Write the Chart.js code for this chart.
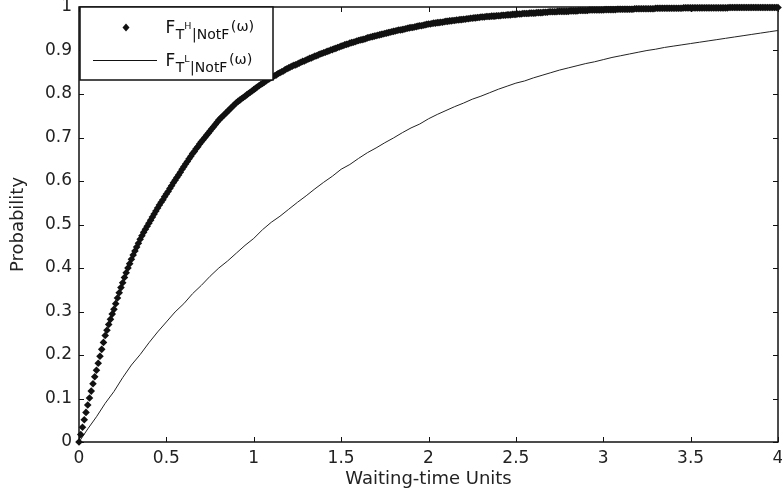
<!DOCTYPE html>
<html>
<head>
<meta charset="utf-8">
<script src="https://cdn.jsdelivr.net/npm/chart.js@4.4.1/dist/chart.umd.min.js"></script>
<style>
  html, body { margin: 0; padding: 0; background: #fff; }
  #wrap { width: 782px; height: 495px; }
</style>
</head>
<body>
<div id="wrap"><canvas id="c" width="782" height="495"></canvas></div>
<script>
// ── Ticks ───────────────────────────────────────────────────────
const X_TICKS = [0, 0.5, 1, 1.5, 2, 2.5, 3, 3.5, 4];
const Y_TICKS = [0, 0.1, 0.2, 0.3, 0.4, 0.5, 0.6, 0.7, 0.8, 0.9, 1];

// ── F_T^H|NotF : markers, one every 0.01 time unit ──────────────
const H_STEP = 0.01;
const H_VALUES = [
  0, 0.017, 0.034, 0.051, 0.068, 0.085, 0.101, 0.117, 0.134, 0.150,
  0.165, 0.181, 0.197, 0.213, 0.229, 0.245, 0.257, 0.270, 0.282, 0.294,
  0.305, 0.318, 0.331, 0.343, 0.355, 0.366, 0.378, 0.389, 0.400, 0.410,
  0.420, 0.430, 0.439, 0.448, 0.457, 0.466, 0.474, 0.482, 0.489, 0.496,
  0.503, 0.510, 0.517, 0.524, 0.531, 0.538, 0.545, 0.551, 0.557, 0.564,
  0.570, 0.576, 0.583, 0.589, 0.596, 0.602, 0.608, 0.614, 0.620, 0.627,
  0.633, 0.639, 0.645, 0.651, 0.657, 0.663, 0.668, 0.674, 0.679, 0.685,
  0.690, 0.695, 0.700, 0.705, 0.710, 0.715, 0.720, 0.725, 0.730, 0.735,
  0.740, 0.744, 0.748, 0.752, 0.756, 0.760, 0.764, 0.768, 0.772, 0.776,
  0.780, 0.783, 0.786, 0.789, 0.792, 0.795, 0.798, 0.801, 0.804, 0.807,
  0.810, 0.813, 0.816, 0.819, 0.822, 0.824, 0.827, 0.830, 0.833, 0.835,
  0.838, 0.840, 0.842, 0.844, 0.847, 0.849, 0.851, 0.853, 0.856, 0.858,
  0.860, 0.862, 0.864, 0.866, 0.867, 0.869, 0.871, 0.873, 0.875, 0.876,
  0.878, 0.880, 0.882, 0.883, 0.885, 0.887, 0.888, 0.890, 0.892, 0.893,
  0.895, 0.896, 0.898, 0.899, 0.901, 0.902, 0.904, 0.905, 0.907, 0.908,
  0.910, 0.911, 0.913, 0.914, 0.915, 0.917, 0.918, 0.919, 0.920, 0.922,
  0.923, 0.924, 0.925, 0.926, 0.927, 0.929, 0.930, 0.931, 0.932, 0.933,
  0.934, 0.935, 0.936, 0.937, 0.938, 0.939, 0.940, 0.941, 0.942, 0.943,
  0.944, 0.945, 0.946, 0.947, 0.947, 0.948, 0.949, 0.950, 0.951, 0.952,
  0.953, 0.953, 0.954, 0.955, 0.956, 0.957, 0.957, 0.958, 0.959, 0.960,
  0.961, 0.961, 0.962, 0.963, 0.963, 0.964, 0.964, 0.965, 0.965, 0.966,
  0.967, 0.967, 0.968, 0.968, 0.969, 0.969, 0.970, 0.970, 0.971, 0.971,
  0.972, 0.972, 0.973, 0.973, 0.974, 0.974, 0.975, 0.975, 0.976, 0.976,
  0.977, 0.977, 0.977, 0.978, 0.978, 0.978, 0.979, 0.979, 0.979, 0.980,
  0.980, 0.980, 0.981, 0.981, 0.981, 0.982, 0.982, 0.982, 0.983, 0.983,
  0.983, 0.984, 0.984, 0.984, 0.985, 0.985, 0.985, 0.985, 0.986, 0.986,
  0.986, 0.986, 0.987, 0.987, 0.987, 0.987, 0.988, 0.988, 0.988, 0.989,
  0.989, 0.989, 0.989, 0.989, 0.990, 0.990, 0.990, 0.990, 0.990, 0.990,
  0.990, 0.991, 0.991, 0.991, 0.991, 0.991, 0.992, 0.992, 0.992, 0.992,
  0.992, 0.992, 0.993, 0.993, 0.993, 0.993, 0.993, 0.993, 0.993, 0.993,
  0.993, 0.994, 0.994, 0.994, 0.994, 0.994, 0.994, 0.994, 0.995, 0.995,
  0.995, 0.995, 0.995, 0.995, 0.995, 0.995, 0.995, 0.995, 0.996, 0.996,
  0.996, 0.996, 0.996, 0.996, 0.996, 0.996, 0.996, 0.996, 0.996, 0.996,
  0.997, 0.997, 0.997, 0.997, 0.997, 0.997, 0.997, 0.997, 0.997, 0.997,
  0.997, 0.997, 0.997, 0.997, 0.997, 0.997, 0.998, 0.998, 0.998, 0.998,
  0.998, 0.998, 0.998, 0.998, 0.998, 0.998, 0.998, 0.998, 0.998, 0.998,
  0.998, 0.998, 0.998, 0.998, 0.998, 0.998, 0.998, 0.998, 0.998, 0.998,
  0.998, 0.998, 0.999, 0.999, 0.999, 0.999, 0.999, 0.999, 0.999, 0.999,
  0.999, 0.999, 0.999, 0.999, 0.999, 0.999, 0.999, 0.999, 0.999, 0.999,
  0.999, 0.999, 0.999, 0.999, 0.999, 0.999, 0.999, 0.999, 0.999, 0.999,
  0.999
];

// ── F_T^L|NotF : solid line, one value every 0.05 time unit ─────
const L_STEP = 0.05;
const L_VALUES = [
  0.000, 0.030, 0.058, 0.089, 0.116, 0.148, 0.177, 0.201, 0.228, 0.253,
  0.276, 0.299, 0.318, 0.341, 0.360, 0.381, 0.400, 0.416, 0.434, 0.452,
  0.468, 0.488, 0.505, 0.519, 0.535, 0.551, 0.566, 0.582, 0.597, 0.611,
  0.627, 0.638, 0.652, 0.665, 0.676, 0.688, 0.699, 0.711, 0.722, 0.731,
  0.743, 0.753, 0.762, 0.771, 0.779, 0.788, 0.795, 0.803, 0.811, 0.818,
  0.825, 0.830, 0.837, 0.843, 0.849, 0.855, 0.860, 0.865, 0.870, 0.874,
  0.879, 0.884, 0.888, 0.892, 0.896, 0.900, 0.903, 0.907, 0.910, 0.913,
  0.916, 0.919, 0.922, 0.925, 0.928, 0.931, 0.934, 0.937, 0.940, 0.943,
  0.946
];

const FONT = "'DejaVu Sans', sans-serif";
const INK = "#111";

const toPoints = (vals, step) => vals.map((y, i) => ({ x: +(i * step).toFixed(4), y }));

// ── Cadre MATLAB : boîte + graduations vers l'intérieur ─────────
const matlabBox = {
  id: "matlabBox",
  beforeDatasetsDraw(chart) {
    const { ctx, chartArea: a, scales } = chart;
    const len = 5;
    ctx.save();
    ctx.strokeStyle = INK;
    ctx.lineWidth = 1.5;
    ctx.strokeRect(a.left, a.top, a.right - a.left, a.bottom - a.top);
    ctx.lineWidth = 1;
    ctx.beginPath();
    scales.x.ticks.forEach(t => {
      const px = Math.round(scales.x.getPixelForValue(t.value)) + 0.5;
      ctx.moveTo(px, a.bottom); ctx.lineTo(px, a.bottom - len);
      ctx.moveTo(px, a.top);    ctx.lineTo(px, a.top + len);
    });
    scales.y.ticks.forEach(t => {
      const py = Math.round(scales.y.getPixelForValue(t.value)) + 0.5;
      ctx.moveTo(a.left, py);  ctx.lineTo(a.left + len, py);
      ctx.moveTo(a.right, py); ctx.lineTo(a.right - len, py);
    });
    ctx.stroke();
    ctx.restore();
  },
};

// ── Légende avec indices / exposants ────────────────────────────
function legendLabel(ctx, x, y, sup) {
  ctx.textBaseline = "alphabetic";
  ctx.textAlign = "left";
  ctx.font = "17px " + FONT;
  ctx.fillText("F", x, y);
  x += ctx.measureText("F").width + 0.5;
  ctx.font = "14px " + FONT;
  ctx.fillText("T", x, y + 5.5);
  x += ctx.measureText("T").width;
  ctx.font = "9.5px " + FONT;
  ctx.fillText(sup, x, y - 4.5);
  x += ctx.measureText(sup).width + 0.5;
  ctx.font = "14px " + FONT;
  ctx.fillText("|NotF", x, y + 5.5);
  x += ctx.measureText("|NotF").width + 1.5;
  ctx.font = "14.5px " + FONT;
  ctx.fillText("(ω)", x, y - 2.5);
}

const matlabLegend = {
  id: "matlabLegend",
  afterDraw(chart) {
    const { ctx } = chart;
    ctx.save();
    ctx.fillStyle = "#fff";
    ctx.fillRect(80, 7, 193, 73);
    ctx.strokeStyle = INK;
    ctx.lineWidth = 1.5;
    ctx.strokeRect(80, 7, 193, 73);
    // marqueur
    ctx.fillStyle = INK;
    ctx.beginPath();
    ctx.moveTo(126, 23.5); ctx.lineTo(129.5, 27.5); ctx.lineTo(126, 31.5); ctx.lineTo(122.5, 27.5);
    ctx.closePath();
    ctx.fill();
    // trait
    ctx.lineWidth = 1;
    ctx.beginPath();
    ctx.moveTo(93, 60.5); ctx.lineTo(157, 60.5);
    ctx.stroke();
    legendLabel(ctx, 165.5, 33, "H");
    legendLabel(ctx, 165.5, 66, "L");
    ctx.restore();
  },
};

const tickFont = { family: FONT, size: 17 };
const titleFont = { family: FONT, size: 18 };

new Chart(document.getElementById("c"), {
  type: "scatter",
  data: {
    datasets: [
      {
        label: "F_T^H|NotF(ω)",
        data: toPoints(H_VALUES, H_STEP),
        showLine: false,
        pointStyle: "rectRot",
        pointRadius: 3.8,
        backgroundColor: INK,
        borderWidth: 0,
        clip: false,
      },
      {
        label: "F_T^L|NotF(ω)",
        data: toPoints(L_VALUES, L_STEP),
        showLine: true,
        borderColor: "#222",
        borderWidth: 1,
        pointRadius: 0,
        tension: 0,
      },
    ],
  },
  options: {
    responsive: false,
    animation: false,
    devicePixelRatio: 1,
    events: [],
    layout: { padding: { top: 7, right: 2, left: 0, bottom: 0 } },
    plugins: { legend: { display: false }, tooltip: { enabled: false } },
    scales: {
      x: {
        type: "linear",
        min: 0,
        max: 4,
        afterBuildTicks: s => { s.ticks = X_TICKS.map(v => ({ value: v })); },
        afterFit: s => { s.height = 53; s.paddingLeft = 0; s.paddingRight = 0; },
        grid: { display: false, drawTicks: false },
        border: { display: false },
        ticks: { padding: 6, color: "#222", font: tickFont, maxRotation: 0, autoSkip: false, callback: v => String(v) },
        title: { display: true, text: "Waiting-time Units", color: "#222", font: titleFont, padding: { top: 0, bottom: 5 } },
      },
      y: {
        type: "linear",
        min: 0,
        max: 1,
        afterBuildTicks: s => { s.ticks = Y_TICKS.map(v => ({ value: v })); },
        afterFit: s => { s.width = 79; s.paddingTop = 0; s.paddingBottom = 0; },
        grid: { display: false, drawTicks: false },
        border: { display: false },
        ticks: { padding: 7, color: "#222", font: tickFont, autoSkip: false, callback: v => String(v) },
        title: { display: true, text: "Probability", color: "#222", font: titleFont, padding: { top: 8, bottom: 0 } },
      },
    },
  },
  plugins: [matlabBox, matlabLegend],
});
</script>
</body>
</html>
